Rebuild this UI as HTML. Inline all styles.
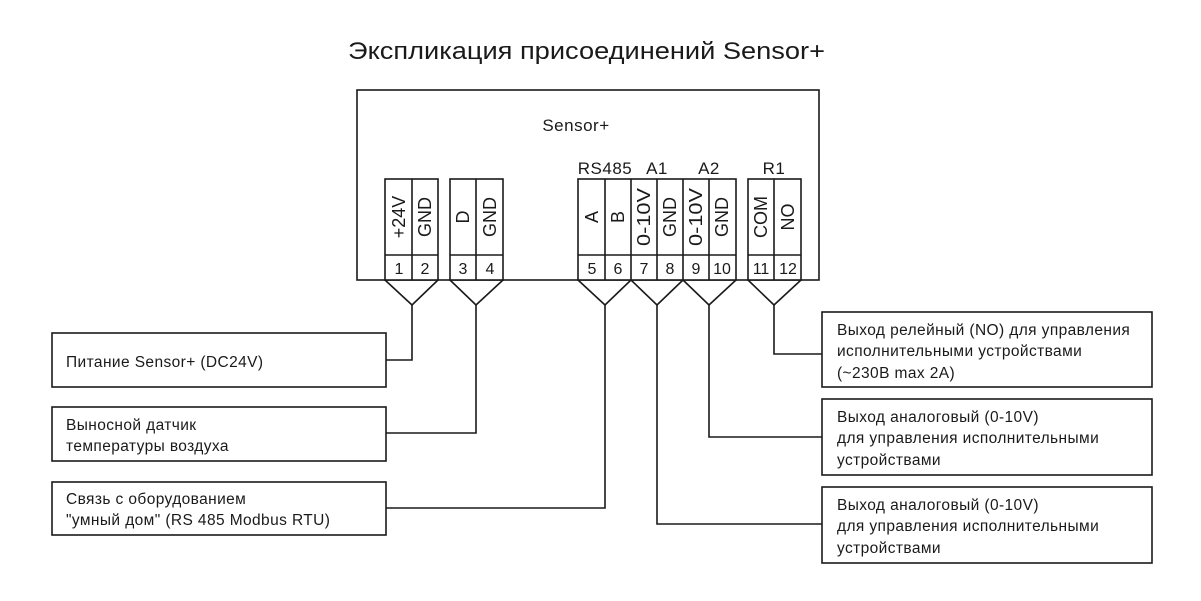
<!DOCTYPE html>
<html><head><meta charset="utf-8"><style>
html,body{margin:0;padding:0;background:#fff;}
svg{display:block;}
text{font-family:"Liberation Sans","DejaVu Sans",sans-serif;fill:#1a1a1a;}
</style></head><body>
<svg width="1201" height="601" viewBox="0 0 1201 601" xmlns="http://www.w3.org/2000/svg">
<rect width="1201" height="601" fill="#fff"/>
<text x="348" y="59" font-size="24" textLength="477" lengthAdjust="spacingAndGlyphs">Экспликация присоединений Sensor+</text>
<g fill="none" stroke="#1a1a1a" stroke-width="1.6">
<rect x="357" y="90" width="462" height="190"/>
<rect x="385" y="179" width="53" height="101" fill="#fff"/>
<line x1="412" y1="179" x2="412" y2="280"/>
<line x1="385" y1="255" x2="438" y2="255"/>
<rect x="450" y="179" width="53" height="101" fill="#fff"/>
<line x1="476" y1="179" x2="476" y2="280"/>
<line x1="450" y1="255" x2="503" y2="255"/>
<rect x="578" y="179" width="158" height="101" fill="#fff"/>
<line x1="605" y1="179" x2="605" y2="280"/>
<line x1="631" y1="179" x2="631" y2="280"/>
<line x1="657" y1="179" x2="657" y2="280"/>
<line x1="683" y1="179" x2="683" y2="280"/>
<line x1="709" y1="179" x2="709" y2="280"/>
<line x1="578" y1="255" x2="736" y2="255"/>
<rect x="748" y="179" width="53" height="101" fill="#fff"/>
<line x1="774" y1="179" x2="774" y2="280"/>
<line x1="748" y1="255" x2="801" y2="255"/>
<polyline points="385,280 412,305 438,280"/>
<polyline points="450,280 476,305 503,280"/>
<polyline points="578,280 605,305 631,280"/>
<polyline points="631,280 657,305 683,280"/>
<polyline points="683,280 709,305 736,280"/>
<polyline points="748,280 774,305 801,280"/>
<polyline points="412,305 412,360 386,360"/>
<polyline points="476,305 476,433 386,433"/>
<polyline points="605,305 605,508 386,508"/>
<polyline points="774,305 774,354 822,354"/>
<polyline points="709,305 709,437 822,437"/>
<polyline points="657,305 657,524 822,524"/>
<rect x="52" y="333" width="334" height="54"/>
<rect x="52" y="407" width="334" height="54"/>
<rect x="52" y="482" width="334" height="53"/>
<rect x="822" y="312" width="330" height="75"/>
<rect x="822" y="399" width="330" height="76"/>
<rect x="822" y="487" width="330" height="76"/>
</g>
<text x="576" y="131" font-size="17" text-anchor="middle" letter-spacing="0.5">Sensor+</text>
<g font-size="17" text-anchor="middle" letter-spacing="0.5">
<text x="605" y="174">RS485</text>
<text x="657" y="174">A1</text>
<text x="709" y="174">A2</text>
<text x="774" y="174">R1</text>
</g>
<g font-size="18" text-anchor="middle" dominant-baseline="central">
<text transform="translate(399,217) rotate(-90)">+24V</text>
<text transform="translate(425,217) rotate(-90)">GND</text>
<text transform="translate(463,217) rotate(-90)">D</text>
<text transform="translate(490,217) rotate(-90)">GND</text>
<text transform="translate(592,217) rotate(-90)">A</text>
<text transform="translate(618,217) rotate(-90)">B</text>
<text transform="translate(644,217) rotate(-90)" textLength="58" lengthAdjust="spacingAndGlyphs">0-10V</text>
<text transform="translate(670,217) rotate(-90)">GND</text>
<text transform="translate(696,217) rotate(-90)" textLength="58" lengthAdjust="spacingAndGlyphs">0-10V</text>
<text transform="translate(722,217) rotate(-90)">GND</text>
<text transform="translate(761,217) rotate(-90)">COM</text>
<text transform="translate(788,217) rotate(-90)">NO</text>
</g>
<g font-size="16" text-anchor="middle">
<text x="399" y="274">1</text><text x="425" y="274">2</text>
<text x="463" y="274">3</text><text x="490" y="274">4</text>
<text x="592" y="274">5</text><text x="618" y="274">6</text>
<text x="644" y="274">7</text><text x="670" y="274">8</text>
<text x="696" y="274">9</text><text x="722" y="274">10</text>
<text x="761" y="274">11</text><text x="788" y="274">12</text>
</g>
<g font-size="15.5" letter-spacing="0.4">
<text x="66" y="367">Питание Sensor+  (DC24V)</text>
<text x="66" y="430">Выносной датчик</text>
<text x="66" y="451">температуры воздуха</text>
<text x="66" y="504">Связь с оборудованием</text>
<text x="66" y="525">"умный дом" (RS 485 Modbus RTU)</text>
<text x="837" y="335">Выход релейный (NO) для управления</text>
<text x="837" y="356">исполнительными устройствами</text>
<text x="837" y="378">(~230В max 2А)</text>
<text x="837" y="422">Выход аналоговый (0-10V)</text>
<text x="837" y="443">для управления исполнительными</text>
<text x="837" y="465">устройствами</text>
<text x="837" y="510">Выход аналоговый (0-10V)</text>
<text x="837" y="531">для управления исполнительными</text>
<text x="837" y="553">устройствами</text>
</g>
</svg>
</body></html>
